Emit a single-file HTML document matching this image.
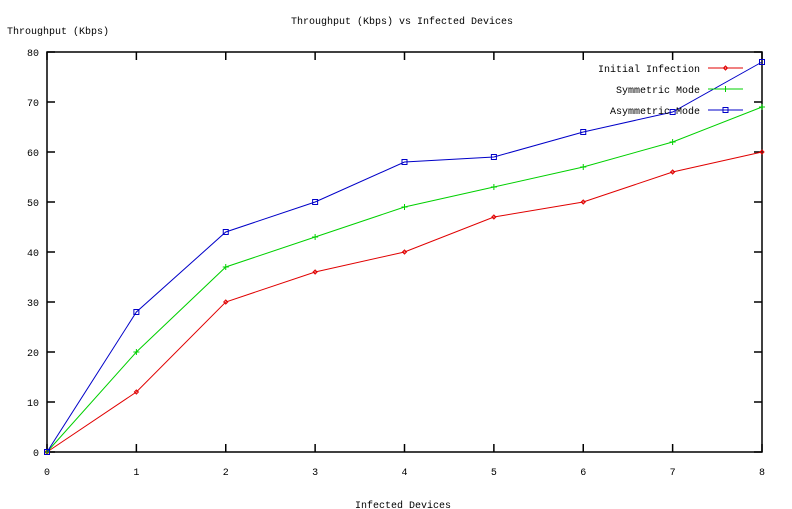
<!DOCTYPE html>
<html><head><meta charset="utf-8"><style>
html,body{margin:0;padding:0;background:#fff;}
svg{display:block;font-family:"Liberation Mono",monospace;font-size:10px;}
</style></head><body>
<svg id="chart" width="792" height="509" viewBox="0 0 792 509" xmlns="http://www.w3.org/2000/svg">
<rect width="792" height="509" fill="#fff"/>
<text x="402" y="24" text-anchor="middle">Throughput (Kbps) vs Infected Devices</text>
<text x="7" y="34">Throughput (Kbps)</text>
<text x="403" y="508" text-anchor="middle">Infected Devices</text>
<g id="axes"></g>
<g id="series"></g>
<g id="legend"></g>
</svg>
<script>
const categories = [0,1,2,3,4,5,6,7,8];
const initialInfection = [0,12,30,36,40,47,50,56,60];
const symmetricMode = [0,20,37,43,49,53,57,62,69];
const asymmetricMode = [0,28,44,50,58,59,64,68,78];
const yTicks = [0,10,20,30,40,50,60,70,80];
const xTicks = [0,1,2,3,4,5,6,7,8];

const X0=47,X1=762,Y0=452,Y1=52;
const xs=v=>X0+(v-0)/8*(X1-X0);
const ys=v=>Y0-(v-0)/80*(Y0-Y1);
const NS="http://www.w3.org/2000/svg";
function mk(tag,attrs,parent){const e=document.createElementNS(NS,tag);for(const k in attrs)e.setAttribute(k,attrs[k]);parent.appendChild(e);return e;}
const axes=document.getElementById('axes');
const frame=mk('rect',{x:X0,y:Y1,width:X1-X0,height:Y0-Y1,fill:'none',stroke:'#000','stroke-width':1.5},axes);


yTicks.forEach(t=>{
  const y=ys(t);
  mk('line',{x1:X0,x2:X0+8,y1:y,y2:y,stroke:'#000','stroke-width':1.5},axes);
  mk('line',{x1:X1,x2:X1-8,y1:y,y2:y,stroke:'#000','stroke-width':1.5},axes);
  const l=mk('text',{x:X0-8,y:y+4,'text-anchor':'end'},axes);l.textContent=t;
  
  
});
xTicks.forEach(t=>{
  const x=xs(t);
  mk('line',{x1:x,x2:x,y1:Y0,y2:Y0-8,stroke:'#000','stroke-width':1.5},axes);
  mk('line',{x1:x,x2:x,y1:Y1,y2:Y1+8,stroke:'#000','stroke-width':1.5},axes);
  const l=mk('text',{x:x,y:Y0+23,'text-anchor':'middle'},axes);l.textContent=t;
  
  
});
const series=document.getElementById('series');
function marker(g,type,x,y,color){
  if(type==='diamond') mk('path',{d:`M${x-2},${y}L${x},${y-2}L${x+2},${y}L${x},${y+2}Z`,fill:'none',stroke:color},g);
  else if(type==='plus'){mk('path',{d:`M${x-3},${y}H${x+3}M${x},${y-3}V${y+3}`,stroke:color},g);}
  else mk('rect',{x:x-2.5,y:y-2.5,width:5,height:5,fill:'none',stroke:color},g);
}
const defs=[
 {name:'initial-infection',label:'Initial Infection',vals:initialInfection,color:'#e00000',m:'diamond',ly:68},
 {name:'symmetric-mode',label:'Symmetric Mode',vals:symmetricMode,color:'#00d000',m:'plus',ly:89},
 {name:'asymmetric-mode',label:'Asymmetric Mode',vals:asymmetricMode,color:'#0000c8',m:'square',ly:110}
];
const legend=document.getElementById('legend');
defs.forEach(s=>{
  const g=mk('g',{},series);
  
  
  const pts=s.vals.map((v,i)=>xs(categories[i])+','+ys(v)).join(' ');
  mk('polyline',{points:pts,fill:'none',stroke:s.color,'stroke-width':1},g);
  s.vals.forEach((v,i)=>marker(g,s.m,xs(categories[i]),ys(v),s.color));
  const lg=mk('g',{},legend);
  
  
  const t=mk('text',{x:700,y:s.ly+4,'text-anchor':'end'},lg);t.textContent=s.label;
  mk('line',{x1:708,x2:743,y1:s.ly,y2:s.ly,stroke:s.color},lg);
  marker(lg,s.m,725.5,s.ly,s.color);
});
</script>
</body></html>
